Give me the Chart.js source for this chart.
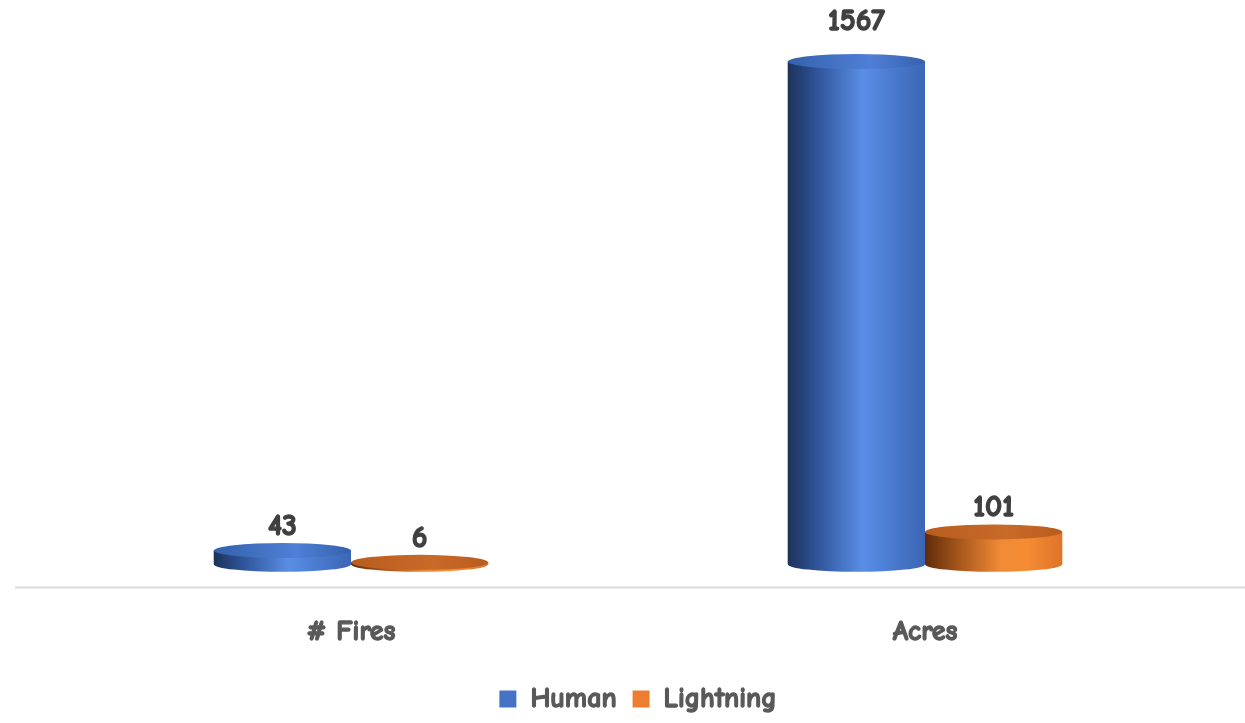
<!DOCTYPE html>
<html>
<head>
<meta charset="utf-8">
<script src="https://cdn.jsdelivr.net/npm/chart.js@4.4.1/dist/chart.umd.min.js"></script>
<style>
  html, body { margin: 0; padding: 0; background: #fff; }
  #wrap { width: 1245px; height: 723px; position: relative; }
</style>
</head>
<body>
<div id="wrap"><canvas id="fireChart"></canvas></div>
<script>
const categories = ['# Fires', 'Acres'];
const humanValues = [43, 1567];
const lightningValues = [6, 101];

const FONT = "'Comic Sans MS', 'Comic Neue', 'DejaVu Sans', sans-serif";
const TEXT_SIZE = 28;

// side shading for each series: dark left edge, highlight, softer right edge
const shades = {
  Human: { stops: ['#1c3259', '#2e5296', '#5a8ee6', '#4a7bd0', '#3c66b4'], top: '#3461ad', topHi: '#4f7fd6' },
  Lightning: { stops: ['#5e2c0a', '#9a4e18', '#f08a36', '#f58b34', '#dd7428'], top: '#b85c1f', topHi: '#c86a28' }
};

const cylinders = {
  id: 'cylinders',
  beforeDatasetsDraw(chart) {
    const ctx = chart.ctx;
    const area = chart.chartArea;
    ctx.save();
    ctx.strokeStyle = '#d9d9d9';
    ctx.lineWidth = 2;
    ctx.beginPath();
    ctx.moveTo(15, area.bottom);
    ctx.lineTo(chart.width, area.bottom);
    ctx.stroke();
    ctx.restore();
  },
  afterDatasetsDraw(chart) {
    const ctx = chart.ctx;
    chart.data.datasets.forEach((ds, i) => {
      const meta = chart.getDatasetMeta(i);
      const sh = shades[ds.label];
      meta.data.forEach((bar, j) => {
        const w = bar.width;
        const left = bar.x - w / 2;
        const right = bar.x + w / 2;
        const ry = 7.5;
        const top = bar.y, base = bar.base;

        const g = ctx.createLinearGradient(left, 0, right, 0);
        g.addColorStop(0, sh.stops[0]);
        g.addColorStop(0.2, sh.stops[1]);
        g.addColorStop(0.55, sh.stops[2]);
        g.addColorStop(0.75, sh.stops[3]);
        g.addColorStop(1, sh.stops[4]);

        ctx.save();
        // body with rounded bottom
        ctx.beginPath();
        ctx.moveTo(left, top);
        ctx.lineTo(left, base);
        ctx.ellipse(bar.x, base, w / 2, ry, 0, Math.PI, 0, true);
        ctx.lineTo(right, top);
        ctx.closePath();
        ctx.fillStyle = g;
        ctx.fill();

        // top face
        const tg = ctx.createLinearGradient(left, 0, right, 0);
        tg.addColorStop(0, sh.top);
        tg.addColorStop(0.6, sh.topHi);
        tg.addColorStop(1, sh.top);
        ctx.beginPath();
        ctx.ellipse(bar.x, top, w / 2, ry, 0, 0, Math.PI * 2);
        ctx.fillStyle = tg;
        ctx.fill();

        // value label
        ctx.fillStyle = '#404040';
        ctx.strokeStyle = '#404040';
        ctx.lineWidth = 1.4;
        ctx.font = 'bold 30px ' + FONT;
        ctx.textAlign = 'center';
        ctx.textBaseline = 'middle';
        const lbl = String(ds.data[j]);
        const ly = j === 1 && i === 0 ? top - 40 : top - 24;
        ctx.fillText(lbl, bar.x, ly);
        ctx.strokeText(lbl, bar.x, ly);
        ctx.restore();
      });
    });
  },
  afterDraw(chart) {
    // thicken the legend text the same way the tick labels are stroked
    const lg = chart.legend;
    const ctx = chart.ctx;
    const opts = lg.options.labels;
    ctx.save();
    ctx.font = 'bold ' + TEXT_SIZE + 'px ' + FONT;
    ctx.strokeStyle = '#595959';
    ctx.lineWidth = 1.3;
    ctx.textAlign = 'left';
    ctx.textBaseline = 'middle';
    lg.legendItems.forEach((item, k) => {
      const hb = lg.legendHitBoxes[k];
      ctx.strokeText(item.text, hb.left + opts.boxWidth + TEXT_SIZE / 2, hb.top + hb.height / 2);
    });
    ctx.restore();
  }
};

new Chart(document.getElementById('fireChart'), {
  type: 'bar',
  data: {
    labels: categories,
    datasets: [
      { label: 'Human', data: humanValues, backgroundColor: '#4472c4', borderWidth: 0 },
      { label: 'Lightning', data: lightningValues, backgroundColor: '#ed7d31', borderWidth: 0 }
    ]
  },
  options: {
    responsive: true,
    maintainAspectRatio: false,
    animation: false,
    layout: { padding: { left: 64, right: 33, top: 40, bottom: 0 } },
    datasets: { bar: { barPercentage: 1, categoryPercentage: 0.478 } },
    scales: {
      x: {
        grid: { display: false },
        border: { display: false },
        ticks: {
          color: '#595959',
          padding: 20,
          textStrokeColor: '#595959',
          textStrokeWidth: 1.3,
          font: { family: FONT, size: TEXT_SIZE, weight: 'bold' }
        }
      },
      y: {
        display: false,
        min: -72,
        max: 1634
      }
    },
    plugins: {
      tooltip: { enabled: false },
      legend: {
        position: 'bottom',
        labels: {
          color: '#595959',
          boxWidth: 17,
          boxHeight: 17,
          padding: 16,
          font: { family: FONT, size: TEXT_SIZE, weight: 'bold' }
        }
      }
    }
  },
  plugins: [cylinders]
});
</script>
</body>
</html>
